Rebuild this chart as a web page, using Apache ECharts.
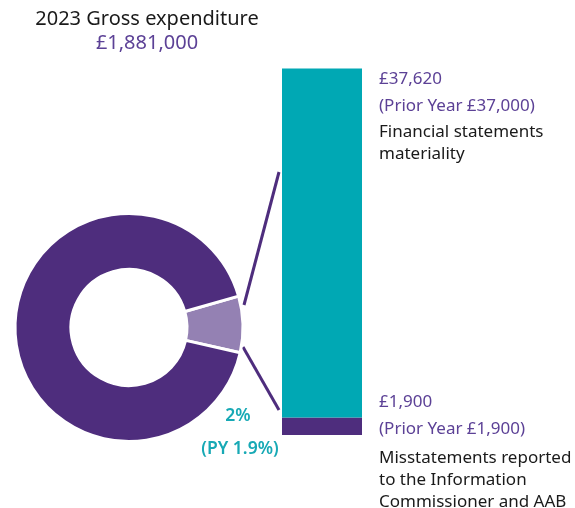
<!DOCTYPE html>
<html>
<head>
<meta charset="utf-8">
<script src="https://cdn.jsdelivr.net/npm/echarts@6/dist/echarts.min.js"></script>
<style>
html,body{margin:0;padding:0;background:#fff;}
#c{width:575px;height:508px;}
</style>
</head>
<body>
<div id="c"></div>
<script>
// ---- data ----
var pieNames = ['Materiality share', 'Remaining expenditure'];
var pieValues = [8, 92]; // visual share as drawn in the infographic
var barCategories = ['Materiality'];
var barMisstatements = [1900];
var barMateriality = [37620];
var titleLines = ['2023 Gross expenditure', '£1,881,000'];
var topLabels = ['£37,620', '(Prior Year £37,000)', 'Financial statements', 'materiality'];
var bottomLabels = ['£1,900', '(Prior Year £1,900)', 'Misstatements reported', 'to the Information', 'Commissioner and AAB'];
var pctLabels = ['2%', '(PY 1.9%)'];

var DARK = '#4e2d7d', LIGHT = '#9481b3', TEAL = '#00a8b4', PTEXT = '#5c4196', TTEXT = '#17a9b5';
var FONT = '"Noto Sans", Lato, sans-serif';

var chart = echarts.init(document.getElementById('c'), null, {renderer: 'canvas'});

function txt(x, y, s, color, size, weight, align) {
  return {type: 'text', x: x, y: y, silent: true,
    style: {text: s, fill: color, font: (weight || 'normal') + ' ' + size + 'px ' + FONT,
      textAlign: align || 'left', textVerticalAlign: 'middle'}};
}

var option = {
  animation: false,
  grid: {left: 282, width: 80, top: 68.5, bottom: 73},
  xAxis: {type: 'category', data: barCategories, show: false},
  yAxis: {type: 'value', min: 0, max: barMisstatements[0] + barMateriality[0], show: false},
  series: [
    {type: 'pie', center: [129, 327.5], radius: [58, 114], startAngle: 16, clockwise: true,
      label: {show: false}, labelLine: {show: false}, silent: true,
      itemStyle: {borderColor: '#fff', borderWidth: 3},
      data: [
        {name: pieNames[0], value: pieValues[0], itemStyle: {color: LIGHT}},
        {name: pieNames[1], value: pieValues[1], itemStyle: {color: DARK}}
      ]},
    {type: 'bar', stack: 's', data: barMisstatements, barWidth: '100%', silent: true,
      itemStyle: {color: DARK}},
    {type: 'bar', stack: 's', data: barMateriality, barWidth: '100%', silent: true,
      itemStyle: {color: TEAL}}
  ]
};
chart.setOption(option);

var yb = chart.convertToPixel({gridIndex: 0}, [0, barMisstatements[0]])[1];
var g = [];
// white gap between bar segments
g.push({type: 'rect', shape: {x: 280, y: yb, width: 84, height: 5}, style: {fill: '#fff'}, silent: true});
// connector lines
g.push({type: 'line', shape: {x1: 244, y1: 305, x2: 279, y2: 172}, style: {stroke: DARK, lineWidth: 3}, silent: true});
g.push({type: 'line', shape: {x1: 243, y1: 347, x2: 279, y2: 410}, style: {stroke: DARK, lineWidth: 3}, silent: true});
// title
g.push(txt(147, 19, titleLines[0], '#1a1a1a', 20, 'normal', 'center'));
g.push(txt(147, 43, titleLines[1], PTEXT, 20, 'normal', 'center'));
// top labels
var ty = [79, 106, 132, 154];
var tc = [PTEXT, PTEXT, '#1a1a1a', '#1a1a1a'];
topLabels.forEach(function (s, i) { g.push(txt(379, ty[i], s, tc[i], 17)); });
// bottom labels
var by = [402, 429, 458, 480, 502];
var bc = [PTEXT, PTEXT, '#1a1a1a', '#1a1a1a', '#1a1a1a'];
bottomLabels.forEach(function (s, i) { g.push(txt(379, by[i], s, bc[i], 17)); });
// percentage labels
g.push(txt(238, 416, pctLabels[0], TTEXT, 17.5, '600', 'center'));
g.push(txt(240, 449, pctLabels[1], TTEXT, 17.5, '600', 'center'));

chart.setOption({graphic: g});
</script>
</body>
</html>
